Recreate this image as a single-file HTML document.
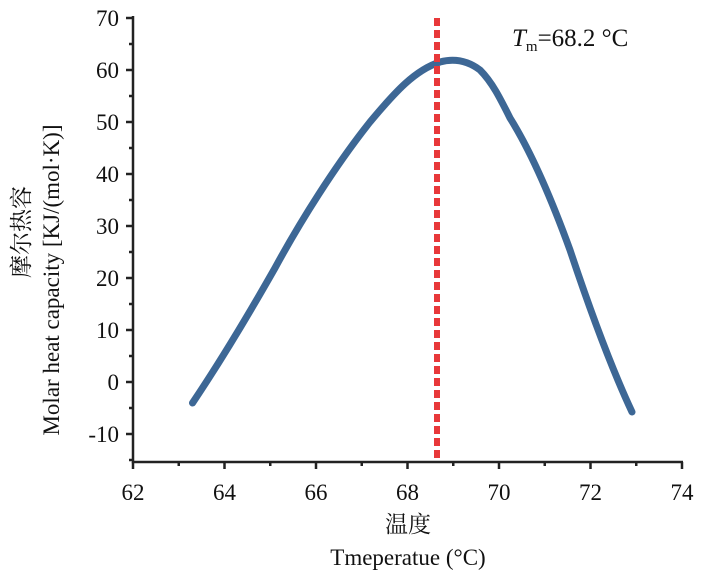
<!DOCTYPE html>
<html><head><meta charset="utf-8"><style>body{margin:0;background:#fff}</style></head><body>
<svg width="701" height="579" xmlns="http://www.w3.org/2000/svg" font-family="Liberation Serif, Noto Serif CJK SC, serif">
<g stroke="#222" stroke-width="2.5" fill="none">
<path d="M133,16 V462 H683"/>
<path d="M133,18h-7M133,70h-7M133,122h-7M133,174h-7M133,226h-7M133,278h-7M133,330h-7M133,382h-7M133,434h-7"/>
<path d="M133,44h-4M133,96h-4M133,148h-4M133,200h-4M133,252h-4M133,304h-4M133,356h-4M133,408h-4M133,460h-4"/>
<path d="M133,462v7M224.5,462v7M316,462v7M407.5,462v7M499,462v7M590.5,462v7M682,462v7"/>
<path d="M178.75,462v4M270.25,462v4M361.75,462v4M453.25,462v4M544.75,462v4M636.25,462v4"/>
</g>
<g font-size="23" fill="#111" text-anchor="end">
<text x="119" y="26">70</text><text x="119" y="78">60</text><text x="119" y="130">50</text><text x="119" y="182">40</text><text x="119" y="234">30</text><text x="119" y="286">20</text><text x="119" y="338">10</text><text x="119" y="390">0</text><text x="119" y="442">-10</text>
</g>
<g font-size="23" fill="#111" text-anchor="middle">
<text x="133" y="500">62</text><text x="224.5" y="500">64</text><text x="316" y="500">66</text><text x="407.5" y="500">68</text><text x="499" y="500">70</text><text x="590.5" y="500">72</text><text x="682" y="500">74</text>
<text x="408" y="532" font-size="23">温度</text>
<text x="408" y="565" font-size="23">Tmeperatue (°C)</text>
</g>
<text transform="translate(29,232) rotate(-90)" text-anchor="middle" font-size="23" fill="#111">摩尔热容</text>
<text transform="translate(59,280) rotate(-90)" text-anchor="middle" font-size="23" fill="#111">Molar heat capacity [KJ/(mol·K)]</text>
<text x="512" y="46" font-size="25" fill="#111"><tspan font-style="italic">T</tspan><tspan font-size="15" dy="5">m</tspan><tspan dy="-5">=68.2 °C</tspan></text>
<path d="M192.5,403 C220,362 250,312 275,268 C300,222 335,166 370,122 C395,92 415,70 440,62 C455,58 468,61 480,70 C492,82 500,98 510,118 C530,150 550,195 570,250 C590,310 610,365 632,412" stroke="#3d6795" stroke-width="7" fill="none" stroke-linecap="round"/>
<path d="M437,18 V462" stroke="#e8383a" stroke-width="6" stroke-dasharray="8,4"/>
</svg>
</body></html>
